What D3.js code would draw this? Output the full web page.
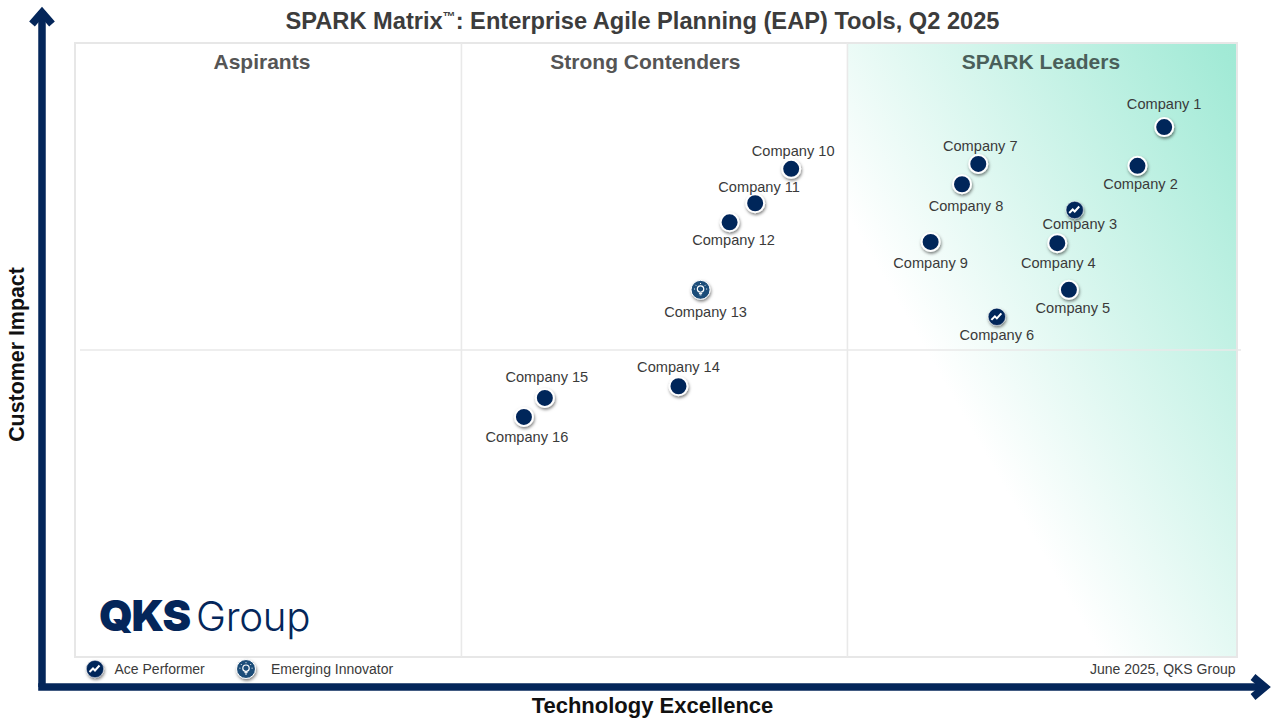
<!DOCTYPE html>
<html><head><meta charset="utf-8">
<script src="https://cdn.jsdelivr.net/npm/d3@7"></script>
<style>html,body{margin:0;padding:0;background:#fff}svg{display:block}text{font-family:"Liberation Sans",Arial,sans-serif}</style>
</head><body><svg id="c" width="1280" height="720"></svg>
<script>
const companies=["Company 1","Company 2","Company 3","Company 4","Company 5","Company 6","Company 7","Company 8","Company 9","Company 10","Company 11","Company 12","Company 13","Company 14","Company 15","Company 16"];
const technology=[9.37,9.14,8.60,8.45,8.55,7.93,7.77,7.63,7.36,6.16,5.85,5.63,5.38,5.19,4.04,3.86];
const impact=[8.63,8.00,7.28,6.74,5.98,5.54,8.03,7.70,6.76,7.95,7.39,7.08,5.98,4.41,4.22,3.91];
const badges=["","","ace","","","ace","","","","","","","emerging","","",""];
const quadrants=["Aspirants","Strong Contenders","SPARK Leaders"];
const dividers=[3.322,6.644];
const midline=[5];
// label placement, separate from the values
const labelDx=[0,3,5,1,4,0,2,4,0,2,4,4,5,0,2,3];
const labelDy=[-23,18,14,20,18,18,-18,22,21,-18,-16,18,22,-19,-21,20];
const headingDx=[-6.5,-9,-1.5];

const svg=d3.select("#c");
const x=d3.scaleLinear().domain([0,10]).range([75.4,1237.4]);
const y=d3.scaleLinear().domain([0,10]).range([657,43]);
const navy="#04265a";
const defs=svg.append("defs");
const g=defs.append("linearGradient").attr("id","lead").attr("gradientUnits","userSpaceOnUse")
 .attr("x1",925).attr("y1",350).attr("x2",1316).attr("y2",125);
g.append("stop").attr("offset",0).attr("stop-color","#fff");
g.append("stop").attr("offset",0.9).attr("stop-color","#a2ead6");
g.append("stop").attr("offset",1).attr("stop-color","#9de8d3");
const f=defs.append("filter").attr("id","sh").attr("x","-50%").attr("y","-50%").attr("width","200%").attr("height","200%");
f.append("feDropShadow").attr("dx",0.8).attr("dy",1.8).attr("stdDeviation",1.7).attr("flood-color","#000").attr("flood-opacity",0.5);

// plot
svg.append("rect").attr("x",x(dividers[1])).attr("y",y(10)).attr("width",x(10)-x(dividers[1])).attr("height",y(0)-y(10)).attr("fill","url(#lead)");
svg.append("rect").attr("x",75).attr("y",y(10)).attr("width",1162).attr("height",y(0)-y(10)).attr("fill","none").attr("stroke","#e7e7e7").attr("stroke-width",2);
svg.selectAll(".v").data(dividers).join("line").attr("x1",d=>x(d)).attr("x2",d=>x(d)).attr("y1",y(10)).attr("y2",y(0)).attr("stroke","#e9e9e9").attr("stroke-width",1.6);
svg.selectAll(".h").data(midline).join("line").attr("x1",80).attr("x2",1241).attr("y1",d=>y(d)).attr("y2",d=>y(d)).attr("stroke","#e9e9e9").attr("stroke-width",1.6);

// headings
const qc=[0,1,2].map(i=>([0,...dividers,10][i]+[0,...dividers,10][i+1])/2);
svg.selectAll(".q").data(quadrants).join("text").text(d=>d).attr("x",(d,i)=>x(qc[i])+headingDx[i]).attr("y",69).attr("text-anchor","middle")
 .attr("font-size",21).attr("font-weight","bold").attr("fill",(d,i)=>i==2?"#4a5f5a":"#555");

// title
const t=svg.append("text").attr("x",642.5).attr("y",29).attr("text-anchor","middle").attr("font-size",23.65).attr("font-weight","bold").attr("fill","#3c3c3c");
t.append("tspan").text("SPARK Matrix");
t.append("tspan").text("™").attr("font-size",13).attr("dy",-8);
t.append("tspan").text(": Enterprise Agile Planning (EAP) Tools, Q2 2025").attr("dy",8);

// axes arrows
svg.append("path").attr("d","M42,687V11").attr("fill","none").attr("stroke",navy).attr("stroke-width",7.5);
svg.append("path").attr("d","M38.2,687H1266").attr("fill","none").attr("stroke",navy).attr("stroke-width",7.5);
svg.append("path").attr("d","M32,24L42,12.5L52,24").attr("fill","none").attr("stroke",navy).attr("stroke-width",7.5);
svg.append("path").attr("d","M1253,677L1265,687L1253,697").attr("fill","none").attr("stroke",navy).attr("stroke-width",7.5);
svg.append("text").text("Customer Impact").attr("transform","translate(24,354.5) rotate(-90)").attr("text-anchor","middle").attr("font-size",21.4).attr("font-weight","bold").attr("fill","#111");
svg.append("text").text("Technology Excellence").attr("x",652.5).attr("y",712.5).attr("text-anchor","middle").attr("font-size",22).attr("font-weight","bold").attr("fill","#111");

// marker drawing
function ace(s){ s.append("path").attr("d","M-5.5,3L-2,-0.5L0,1.5L4.5,-3.5").attr("fill","none").attr("stroke","#fff").attr("stroke-width",2); }
function bulb(s){
 s.append("circle").attr("cy",-0.8).attr("r",3.2).attr("fill","none").attr("stroke","#fff").attr("stroke-width",1.2);
 s.append("path").attr("d","M-1.6,3.6H1.6M-1,5H1M0,-6.8V-5.8M-5.2,-5L-4.4,-4.2M5.2,-5L4.4,-4.2M-6.6,-0.8H-5.6M6.6,-0.8H5.6").attr("stroke","#fff").attr("stroke-width",1).attr("fill","none");
}
function marker(sel,kind,r,stroke){
 sel.append("circle").attr("r",r).attr("fill",kind=="emerging"?"#1f4e79":navy).attr("stroke","#fff").attr("stroke-width",stroke).attr("filter","url(#sh)");
 if(kind=="ace") sel.call(ace);
 if(kind=="emerging") sel.call(bulb);
}
// points
const idx=d3.range(companies.length);
svg.selectAll(".p").data(idx).join("g").attr("class","p").attr("transform",i=>`translate(${x(technology[i])},${y(impact[i])})`)
 .each(function(i){const k=badges[i];marker(d3.select(this),k,k=="ace"?8.7:k=="emerging"?9.5:9,k=="ace"?0.5:k=="emerging"?1:2);});
svg.selectAll(".l").data(idx).join("text").text(i=>companies[i]).attr("x",i=>x(technology[i])+labelDx[i]).attr("y",i=>y(impact[i])+labelDy[i]+5)
 .attr("text-anchor","middle").attr("font-size",14.6).attr("fill","#3a3a3a");

// legend
marker(svg.append("g").attr("transform","translate(95,669)"),"ace",8.7,0.5);
marker(svg.append("g").attr("transform","translate(246,669)"),"emerging",9.5,1);
svg.append("text").text("Ace Performer").attr("x",114.5).attr("y",674).attr("font-size",14).attr("fill","#3a3a3a");
svg.append("text").text("Emerging Innovator").attr("x",271).attr("y",674).attr("font-size",14).attr("fill","#3a3a3a");
svg.append("text").text("June 2025, QKS Group").attr("x",1235.5).attr("y",674).attr("text-anchor","end").attr("font-size",14).attr("fill","#3a3a3a");

// logo
svg.append("text").text("QKS").attr("x",99).attr("y",631).attr("font-size",43).attr("font-weight",900).attr("letter-spacing",-1.3).attr("fill",navy).style("font-family","Inter");
svg.append("text").text("Group").attr("x",196).attr("y",631).attr("font-size",40.3).attr("font-weight",300).attr("letter-spacing",-0.3).attr("fill",navy).style("font-family","Inter");
</script></body></html>
